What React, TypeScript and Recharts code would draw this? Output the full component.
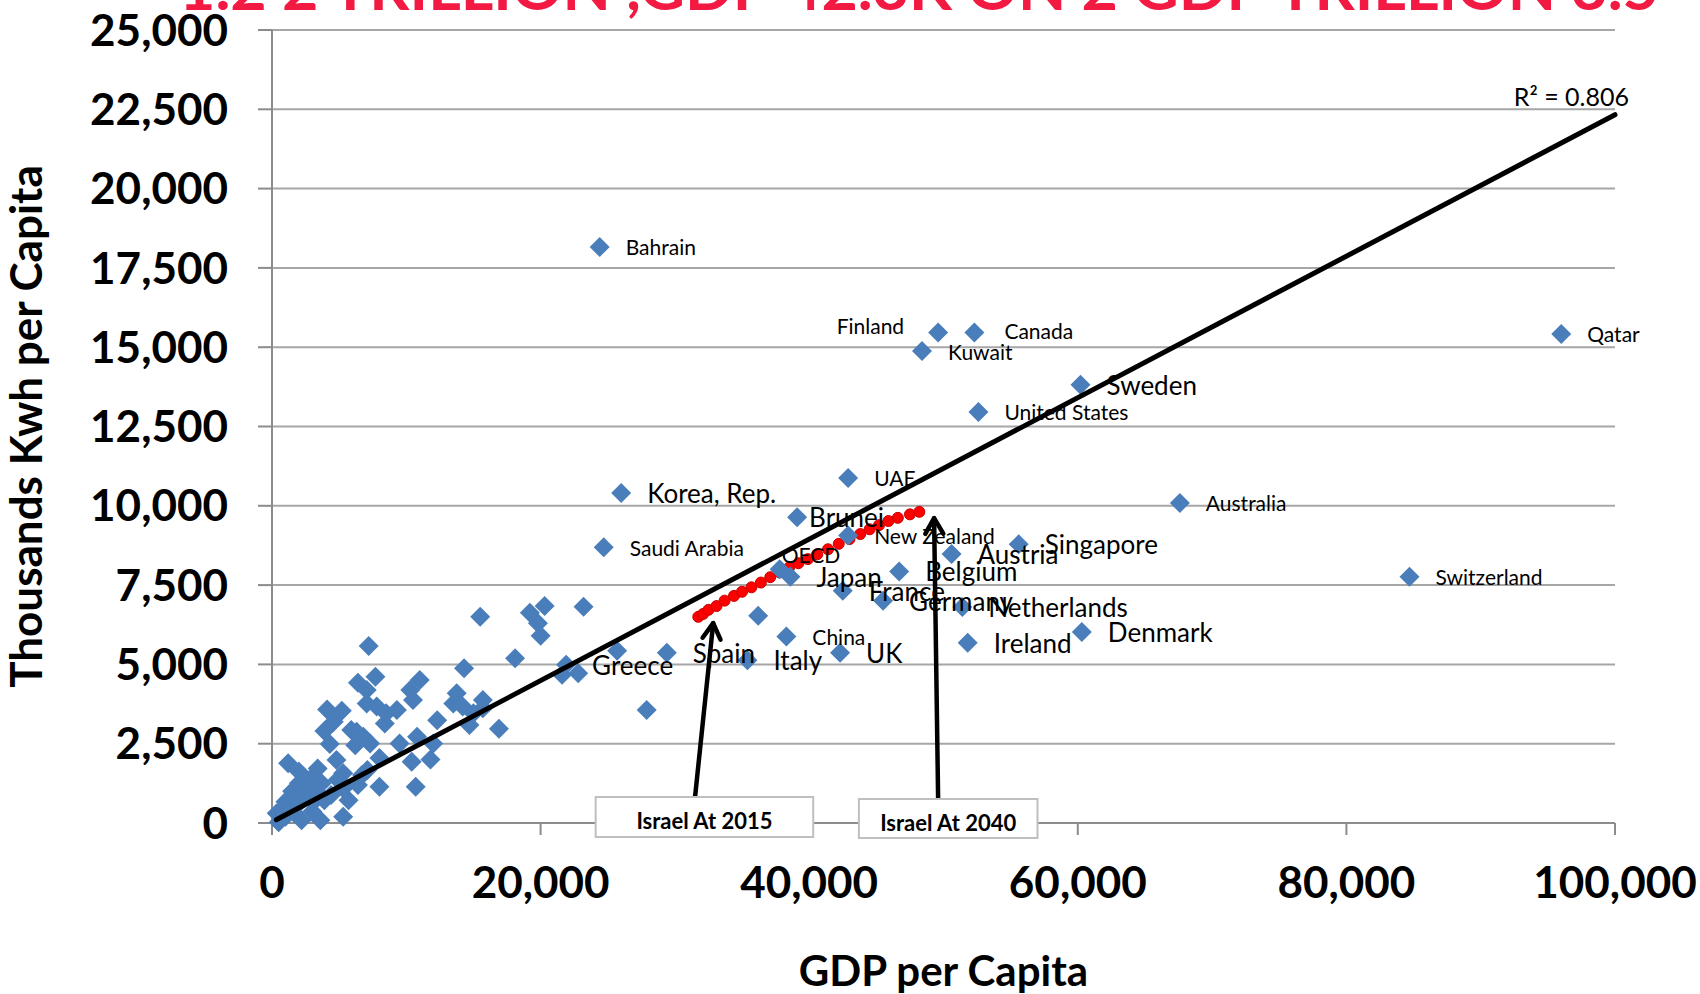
import React from "react";
import {
  ScatterChart,
  Scatter,
  XAxis,
  YAxis,
  CartesianGrid,
  ReferenceLine,
  ReferenceArea,
} from "recharts";

const WIDTH = 1700;
const HEIGHT = 994;

const xTicks = [0, 20000, 40000, 60000, 80000, 100000];
const yTicks = [0, 2500, 5000, 7500, 10000, 12500, 15000, 17500, 20000, 22500, 25000];

// named countries
const countryNames = [
  "Bahrain", "Finland", "Canada", "Kuwait", "Qatar", "Sweden", "United States", "UAE",
  "Korea, Rep.", "Brunei", "Australia", "Saudi Arabia", "New Zealand", "OECD", "Japan",
  "Singapore", "Austria", "Belgium", "France", "Germany", "Netherlands", "Ireland",
  "Denmark", "Switzerland", "China", "UK", "Italy", "Spain", "Greece",
];
const countryGdp = [
  24400, 49600, 52300, 48400, 96000, 60200, 52600, 42900,
  26000, 39100, 67600, 24700, 42900, 37800, 38600,
  55600, 50600, 46700, 42500, 45500, 51400, 51800,
  60300, 84700, 38300, 42300, 35400, 29400, 21900,
];
const countryKwh = [
  18160, 15460, 15460, 14880, 15420, 13820, 12960, 10880,
  10400, 9640, 10090, 8690, 9060, 8000, 7760,
  8790, 8480, 7930, 7320, 7010, 6810, 5680,
  6020, 7760, 5880, 5370, 5130, 5370, 4990,
];

// unnamed countries
const otherGdp = [
  36200, 25700, 27900, 23200, 15500, 19200, 20300, 19800, 20000, 18100,
  14300, 21600, 22800, 13750, 13500, 14200, 15700, 15000, 15700, 14700,
  16900, 12300, 7200, 7700, 6400, 7050, 10300, 11000, 10500, 4100,
  5200, 7050, 7800, 8500, 9300, 8400, 3900, 4600, 5900, 6300,
  6800, 7300, 6200, 4300, 9500, 10400, 10800, 12000, 11800, 8000,
  1200, 2000, 3400, 4800, 5300, 6700, 7100, 2000, 2800, 3700,
  4900, 5300, 6400, 8000, 10700, 4400, 5700, 1000, 2000, 3100,
  3900, 350, 1000, 3000, 3600, 5300, 500, 2200, 1500, 2600,
  800, 1600, 2500, 3300,
];
const otherKwh = [
  6530, 5430, 3560, 6820, 6500, 6630, 6840, 6300, 5900, 5190,
  4880, 4670, 4720, 4090, 3770, 3670, 3880, 3460, 3620, 3090,
  2970, 3240, 5580, 4610, 4420, 4190, 4190, 4510, 3880, 3580,
  3540, 3770, 3670, 3460, 3560, 3140, 2900, 3190, 2930, 2880,
  2720, 2510, 2450, 2490, 2510, 1930, 2720, 2510, 2000, 2050,
  1880, 1620, 1720, 1990, 1570, 1510, 1670, 1250, 1360, 1250,
  1360, 1090, 1200, 1140, 1140, 880, 720, 670, 620, 670,
  720, 310, 200, 360, 90, 200, 20, 90, 1000, 950,
  450, 350, 1050, 1000,
];

// Israel 2015 -> 2040 path
const israelGdp = [
  31740, 32100, 32500, 33100, 33700, 34400, 35000, 35700, 36400, 37100,
  37800, 38500, 39200, 39900, 40600, 41400, 42200, 43000, 43800, 44500,
  45200, 45900, 46600, 47500, 48200,
];
const israelKwh = [
  6500, 6590, 6720, 6840, 7010, 7160, 7290, 7430, 7580, 7750,
  7900, 8050, 8190, 8320, 8470, 8630, 8800, 8950, 9110, 9260,
  9390, 9520, 9620, 9730, 9810,
];

// linear trend line
const trendIntercept = 29;
const trendSlope = 0.223;
const trendFrom = 320;
const trendTo = 100000;
const rSquared = "0.806";

const countries = countryNames.map((name, i) => ({ name, x: countryGdp[i], y: countryKwh[i] }));
const others = otherGdp.map((x, i) => ({ x, y: otherKwh[i] }));
const israel = israelGdp.map((x, i) => ({ x, y: israelKwh[i] }));
const trend = [
  { x: trendFrom, y: trendIntercept + trendSlope * trendFrom },
  { x: trendTo, y: trendIntercept + trendSlope * trendTo },
];

const BLUE = "#4a7ebb";
const GRAY = "#8c8c8c";
const FONT = "Lato, 'Open Sans', sans-serif";

const bigLabels = new Set([
  "Sweden", "Korea, Rep.", "Brunei", "Singapore", "Austria", "Belgium", "Japan", "France",
  "Germany", "Netherlands", "Ireland", "Denmark", "UK", "Italy", "Spain", "Greece",
]);
const labelOffsets: Record<string, { dx: number; dy: number; anchor?: string }> = {
  Finland: { dx: -34, dy: -7, anchor: "end" },
  Canada: { dx: 30, dy: -2 },
  Brunei: { dx: 12, dy: 0 },
  OECD: { dx: 2, dy: -15 },
};

const Diamond = (props: any) => {
  const { cx, cy } = props;
  if (cx == null || cy == null) return null;
  const r = 10;
  return (
    <polygon
      points={`${cx},${cy - r} ${cx + r},${cy} ${cx},${cy + r} ${cx - r},${cy}`}
      fill={BLUE}
    />
  );
};

const CountryLabel = (props: any) => {
  const { cx, cy } = props;
  if (cx == null || cy == null) return null;
  const name = props.payload?.name ?? props.name ?? "";
  const off = labelOffsets[name] || { dx: 26, dy: 0 };
  return (
    <text
      x={cx + off.dx}
      y={cy + off.dy}
      textAnchor={off.anchor || "start"}
      dominantBaseline="central"
      fontSize={bigLabels.has(name) ? 26 : 21}
      fontFamily={FONT}
      fill="#000"
    >
      {name}
    </text>
  );
};

const RedDot = (props: any) => {
  const { cx, cy } = props;
  if (cx == null || cy == null) return null;
  return <circle cx={cx} cy={cy} r={5.5} fill="#ff0000" stroke="#c80000" strokeWidth={1} />;
};

const TrendShape = (props: any) => {
  const { x1, y1, x2, y2 } = props;
  if (x1 == null) return null;
  return <line x1={x1} y1={y1} x2={x2} y2={y2} stroke="#000" strokeWidth={5} strokeLinecap="round" />;
};

const Arrow = (props: any) => {
  const { x1, y1, x2, y2 } = props;
  if (x1 == null) return null;
  const ang = Math.atan2(y2 - y1, x2 - x1);
  const len = 18;
  const spread = Math.PI / 6;
  const ax = x2 - len * Math.cos(ang - spread);
  const ay = y2 - len * Math.sin(ang - spread);
  const bx = x2 - len * Math.cos(ang + spread);
  const by = y2 - len * Math.sin(ang + spread);
  return (
    <g stroke="#000" strokeWidth={4.5} fill="none" strokeLinecap="round" strokeLinejoin="round">
      <line x1={x1} y1={y1} x2={x2} y2={y2} />
      <polyline points={`${ax},${ay} ${x2},${y2} ${bx},${by}`} />
    </g>
  );
};

const boxLabel = (text: string) => (p: any) => {
  const vb = p.viewBox || {};
  return (
    <text
      x={vb.x + vb.width / 2}
      y={vb.y + vb.height / 2 + 4}
      textAnchor="middle"
      dominantBaseline="central"
      fontSize={22}
      fontWeight={700}
      fill="#000"
      fontFamily={FONT}
    >
      {text}
    </text>
  );
};

const fmt = (v: number) => v.toLocaleString("en-US");

export default function App() {
  return (
    <div style={{ position: "absolute", left: 0, top: 0, width: WIDTH, height: HEIGHT, background: "#fff", fontFamily: FONT }}>
      <ScatterChart width={WIDTH} height={HEIGHT} margin={{ top: 30, right: 85, bottom: 0, left: 0 }}>
        <CartesianGrid vertical={false} stroke="#a6a6a6" strokeWidth={2} />
        <XAxis
          type="number"
          dataKey="x"
          domain={[0, 100000]}
          ticks={xTicks}
          interval={0}
          tickFormatter={fmt}
          height={171}
          tickSize={12}
          tickMargin={32}
          axisLine={{ stroke: GRAY, strokeWidth: 2 }}
          tickLine={{ stroke: GRAY, strokeWidth: 2 }}
          tick={{ fontSize: 44, fontWeight: 700, fill: "#000", fontFamily: FONT }}
          label={{
            value: "GDP per Capita",
            position: "insideBottom",
            offset: 8,
            fontSize: 42,
            fontWeight: 700,
            fill: "#000",
            fontFamily: FONT,
          }}
        />
        <YAxis
          type="number"
          dataKey="y"
          domain={[0, 25000]}
          ticks={yTicks}
          interval={0}
          tickFormatter={fmt}
          width={272}
          tickSize={14}
          tickMargin={30}
          axisLine={{ stroke: GRAY, strokeWidth: 2 }}
          tickLine={{ stroke: GRAY, strokeWidth: 2 }}
          tick={{ fontSize: 44, fontWeight: 700, fill: "#000", fontFamily: FONT }}
          label={{
            value: "Thousands Kwh per Capita",
            angle: -90,
            position: "insideLeft",
            offset: 26,
            fontSize: 44,
            fontWeight: 700,
            fill: "#000",
            fontFamily: FONT,
            style: { textAnchor: "middle" },
          }}
        />
        <Scatter name="Israel" data={israel} shape={RedDot} isAnimationActive={false} />
        <Scatter name="Countries" data={others} shape={Diamond} isAnimationActive={false} />
        <Scatter name="Named" data={countries} shape={Diamond} isAnimationActive={false} />
        <ReferenceLine segment={trend} shape={TrendShape} ifOverflow="visible" zIndex={650} />
        <ReferenceLine
          segment={[{ x: 31500, y: 820 }, { x: 32850, y: 6300 }]}
          shape={Arrow}
          ifOverflow="visible"
          zIndex={650}
        />
        <ReferenceLine
          segment={[{ x: 49600, y: 760 }, { x: 49300, y: 9610 }]}
          shape={Arrow}
          ifOverflow="visible"
          zIndex={650}
        />
        <ReferenceArea
          x1={24100}
          x2={40300}
          y1={-440}
          y2={820}
          fill="#fff"
          fillOpacity={1}
          stroke="#bfbfbf"
          strokeWidth={2}
          ifOverflow="visible"
          zIndex={700}
          label={{ content: boxLabel("Israel At 2015"), zIndex: 710 }}
        />
        <ReferenceArea
          x1={43700}
          x2={57000}
          y1={-470}
          y2={760}
          fill="#fff"
          fillOpacity={1}
          stroke="#bfbfbf"
          strokeWidth={2}
          ifOverflow="visible"
          zIndex={700}
          label={{ content: boxLabel("Israel At 2040"), zIndex: 710 }}
        />
        <Scatter name="Labels" data={countries} shape={CountryLabel} isAnimationActive={false} />
      </ScatterChart>
      <svg
        width={WIDTH}
        height={HEIGHT}
        style={{ position: "absolute", left: 0, top: 0, pointerEvents: "none" }}
      >
        <text
          x={919}
          y={10}
          textAnchor="middle"
          fontSize={62}
          fontWeight={700}
          fill="#f21a42"
          fontFamily={FONT}
          textLength={1480}
          lengthAdjust="spacingAndGlyphs"
        >
          1.2 2 TRILLION ,GDP 42.3K ON 2 GDP TRILLION 3.5
        </text>
        <text x={1629} y={106} textAnchor="end" fontSize={25} fill="#000" fontFamily={FONT}>
          R² = {rSquared}
        </text>
      </svg>
    </div>
  );
}
